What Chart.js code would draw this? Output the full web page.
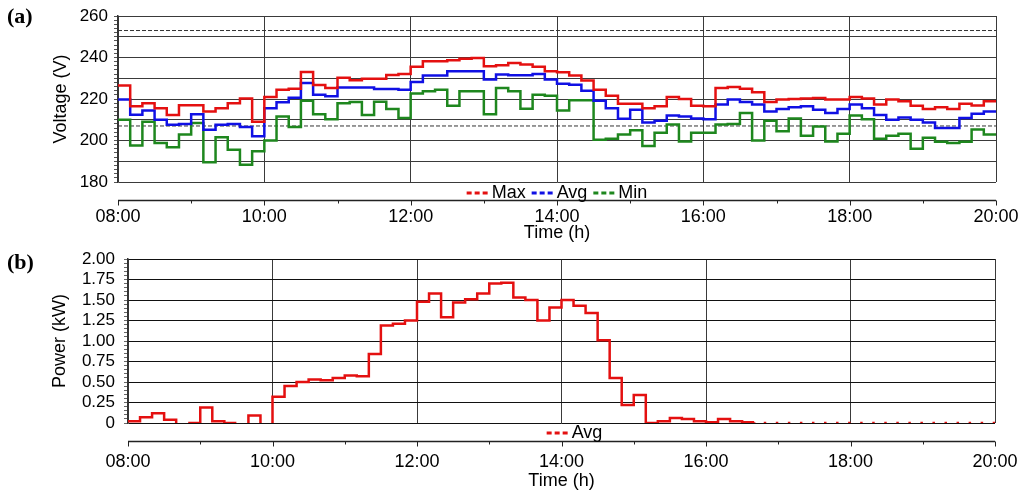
<!DOCTYPE html>
<html>
<head>
<meta charset="utf-8">
<script src="https://cdn.jsdelivr.net/npm/chart.js@4/dist/chart.umd.min.js"></script>
<style>
  html, body { margin: 0; padding: 0; background: #fff; }
  #wrap { position: relative; width: 1024px; height: 497px; overflow: hidden; }
  .panel { position: absolute; left: 0; width: 1024px; }
  .tag { position: absolute; left: 7px; font: bold 22px "Liberation Serif", "Times New Roman", serif; color: #000; }
</style>
</head>
<body>
<div id="wrap">
  <div class="panel" style="top:0;height:248px"><canvas id="voltChart"></canvas></div>
  <div class="panel" style="top:248px;height:249px"><canvas id="powerChart"></canvas></div>
  <div class="tag" style="top:3px">(a)</div>
  <div class="tag" style="top:249px">(b)</div>
</div>
<script>
// one sample every 10 minutes, 08:00 - 20:00
const startMinute = 8 * 60;
const stepMinutes = 10;
const timeTicks = ["08:00", "10:00", "12:00", "14:00", "16:00", "18:00", "20:00"];

const voltMax = [
  226.5, 216.5, 218.0, 215.6, 212.3, 217.0, 217.0, 214.0, 215.6, 218.0, 220.3, 209.0,
  221.0, 224.5, 225.0, 233.0, 226.8, 225.3, 230.3, 229.0, 229.7, 229.8, 231.6, 232.0,
  235.5, 238.2, 238.2, 238.7, 239.4, 239.8, 235.8, 236.3, 237.4, 236.6, 235.5, 233.4,
  232.9, 231.3, 228.9, 224.5, 221.6, 217.7, 217.7, 215.6, 216.5, 221.0, 220.0, 216.8,
  216.5, 225.3, 225.8, 225.0, 223.2, 218.5, 219.7, 220.0, 220.3, 220.5, 219.7, 219.7,
  221.0, 220.3, 217.3, 219.7, 218.9, 216.8, 215.2, 216.0, 215.2, 217.7, 216.9, 218.9
];
const voltAvg = [
  219.7, 212.4, 214.5, 210.0, 207.6, 208.0, 212.6, 205.2, 207.6, 208.0, 206.5, 202.0,
  215.6, 218.4, 220.6, 227.7, 222.0, 221.3, 225.5, 225.5, 225.5, 224.8, 224.8, 224.5,
  228.2, 231.3, 231.3, 233.4, 233.4, 233.4, 229.4, 231.8, 231.5, 231.5, 232.1, 229.4,
  227.4, 226.9, 224.0, 219.2, 215.6, 210.5, 214.8, 208.7, 209.5, 212.0, 211.6, 210.6,
  210.3, 217.3, 219.7, 218.5, 217.3, 214.0, 215.2, 216.0, 216.5, 214.8, 213.2, 215.2,
  217.3, 215.6, 212.3, 210.0, 211.1, 210.0, 208.7, 206.0, 206.0, 210.8, 212.9, 214.0
];
const voltMin = [
  210.0, 197.6, 209.0, 198.8, 196.7, 202.9, 208.4, 189.5, 201.6, 195.6, 188.3, 194.8,
  200.0, 211.6, 206.5, 219.2, 212.7, 210.3, 218.0, 218.5, 212.3, 218.7, 215.2, 210.8,
  222.6, 223.7, 224.5, 216.8, 223.7, 223.7, 212.7, 225.3, 223.7, 215.3, 222.0, 221.6,
  214.5, 219.4, 219.4, 200.4, 200.8, 202.9, 205.0, 197.3, 203.7, 207.7, 199.5, 203.7,
  203.7, 207.7, 208.0, 213.2, 200.0, 209.5, 204.5, 210.6, 202.3, 206.8, 199.5, 203.2,
  212.0, 210.3, 200.8, 202.3, 203.2, 196.0, 201.3, 199.4, 198.8, 199.4, 205.3, 202.9
];
const voltLimits = [253, 207]; // 230 V +/- 10 %

// null = no record for that interval
const powerAvg = [
  0.02, 0.07, 0.12, 0.04, null, 0.00, 0.19, 0.02, 0.00, null, 0.09, null,
  0.32, 0.45, 0.50, 0.53, 0.52, 0.55, 0.58, 0.57, 0.84, 1.19, 1.21, 1.25,
  1.48, 1.58, 1.29, 1.47, 1.51, 1.58, 1.70, 1.71, 1.53, 1.50, 1.25, 1.41,
  1.50, 1.43, 1.34, 1.01, 0.55, 0.22, 0.34, 0.00, 0.02, 0.06, 0.05, 0.02,
  0.01, 0.05, 0.02, 0.01, 0, 0, 0, 0, 0, 0, 0, 0,
  0, 0, 0, 0, 0, 0, 0, 0, 0, 0, 0, 0
];
const dottedFrom = 16 * 60 + 40; // drawn dotted from here on

const RED = "rgb(228,16,16)";
const BLUE = "rgb(16,16,228)";
const GREEN = "rgb(30,135,30)";
const GRID = "#3a3a3a";

Chart.defaults.font.family = '"Liberation Sans", Arial, sans-serif';
Chart.defaults.color = "#000";

function toMinutes(s) {
  const [h, m] = s.split(":");
  return Number(h) * 60 + Number(m);
}
function hhmm(min) {
  const h = Math.floor(min / 60), m = min % 60;
  return String(h).padStart(2, "0") + ":" + String(m).padStart(2, "0");
}
// each value holds for its whole 10 min interval
function stepCorners(values) {
  const pts = [];
  values.forEach((v, i) => {
    const t0 = startMinute + i * stepMinutes;
    const y = v === null ? 0 : v;
    pts.push({ x: t0, y: y }, { x: t0 + stepMinutes, y: y });
  });
  return pts;
}
function flatLine(value) {
  return [
    { x: startMinute, y: value },
    { x: startMinute + voltMax.length * stepMinutes, y: value }
  ];
}

// x axis drawn a bit below the plot frame
const detachedAxis = {
  id: "detachedAxis",
  afterDraw(chart, args, opts) {
    const xs = chart.scales.x, ctx = chart.ctx;
    const y = Math.round(chart.chartArea.bottom + opts.offset) + 0.5;
    ctx.save();
    ctx.strokeStyle = "#222";
    ctx.lineWidth = 1.5;
    ctx.beginPath();
    ctx.moveTo(xs.left, y);
    ctx.lineTo(xs.right, y);
    ctx.stroke();
    ctx.lineWidth = 1;
    for (let m = xs.min; m <= xs.max; m += 60) {
      const px = Math.round(xs.getPixelForValue(m)) + 0.5;
      const len = (m - xs.min) % 120 === 0 ? 5 : 3;
      ctx.beginPath();
      ctx.moveTo(px, y);
      ctx.lineTo(px, y + len);
      ctx.stroke();
    }
    ctx.restore();
  }
};

// legend squeezed between plot frame and x axis
const stripLegend = {
  id: "stripLegend",
  afterDraw(chart, args, opts) {
    const items = chart.data.datasets.filter(d => d.label);
    const ctx = chart.ctx;
    ctx.save();
    ctx.font = '18px "Liberation Sans", Arial, sans-serif';
    ctx.textBaseline = "middle";
    const swatch = 22, gapA = 3, gapB = 6;
    const widths = items.map(d => swatch + gapA + ctx.measureText(d.label).width);
    const total = widths.reduce((a, b) => a + b, 0) + gapB * (items.length - 1);
    let x = (chart.chartArea.left + chart.chartArea.right) / 2 - total / 2 + (opts.shift || 0);
    const y = chart.chartArea.bottom + opts.offset;
    items.forEach((d, i) => {
      ctx.strokeStyle = d.borderColor;
      ctx.lineWidth = 3;
      ctx.setLineDash([5, 3]);
      ctx.beginPath();
      ctx.moveTo(x, y);
      ctx.lineTo(x + swatch, y);
      ctx.stroke();
      ctx.setLineDash([]);
      ctx.fillStyle = "#000";
      ctx.fillText(d.label, x + swatch + gapA, y);
      x += widths[i] + gapB;
    });
    ctx.restore();
  }
};

function timeAxis(padding, titleBottom, height) {
  return {
    type: "linear",
    min: toMinutes(timeTicks[0]),
    max: toMinutes(timeTicks[timeTicks.length - 1]),
    afterBuildTicks: s => { s.ticks = timeTicks.map(t => ({ value: toMinutes(t) })); },
    ticks: { callback: v => hhmm(v), padding: padding, font: { size: 18 }, maxRotation: 0, autoSkip: false },
    grid: { color: GRID, lineWidth: 1, drawTicks: false },
    border: { display: false },
    title: { display: true, text: "Time (h)", font: { size: 18 }, padding: { top: 0, bottom: titleBottom } },
    afterFit: s => { s.height = height; s.paddingLeft = 0; s.paddingRight = 0; }
  };
}

const lineStyle = { borderWidth: 2.5, pointRadius: 0, pointHitRadius: 0, tension: 0, fill: false };

new Chart(document.getElementById("voltChart"), {
  type: "line",
  data: {
    datasets: [
      { label: "Max", data: stepCorners(voltMax), borderColor: RED, ...lineStyle },
      { label: "Avg", data: stepCorners(voltAvg), borderColor: BLUE, ...lineStyle },
      { label: "Min", data: stepCorners(voltMin), borderColor: GREEN, ...lineStyle },
      ...voltLimits.map(v => ({
        label: "", data: flatLine(v), borderColor: "#333", borderWidth: 1,
        borderDash: [4, 2], pointRadius: 0
      }))
    ]
  },
  options: {
    responsive: true,
    maintainAspectRatio: false,
    animation: false,
    layout: { padding: { top: 16, right: 28, left: 0, bottom: 0 } },
    plugins: {
      legend: { display: false },
      tooltip: { enabled: false },
      detachedAxis: { offset: 18 },
      stripLegend: { offset: 11 }
    },
    scales: {
      x: timeAxis(24, 4, 66),
      y: {
        min: 180,
        max: 260,
        ticks: {
          stepSize: 2, autoSkip: false, padding: 6, font: { size: 17 },
          callback: v => (v % 20 === 0 ? v : "")
        },
        grid: {
          color: c => (c.tick && c.tick.value % 10 === 0 ? GRID : "transparent"),
          tickColor: "#555", tickLength: 4, lineWidth: 1
        },
        border: { color: "#333", width: 1.5 },
        title: { display: true, text: "Voltage (V)", font: { size: 18 }, padding: { top: 50, bottom: 0 } },
        afterFit: s => { s.width = 118; s.paddingTop = 0; s.paddingBottom = 0; }
      }
    }
  },
  plugins: [detachedAxis, stripLegend]
});

new Chart(document.getElementById("powerChart"), {
  type: "line",
  data: {
    datasets: [{
      label: "Avg",
      data: stepCorners(powerAvg),
      borderColor: RED,
      ...lineStyle,
      segment: {
        borderColor: c => (c.p0DataIndex % 2 === 0 && powerAvg[c.p0DataIndex / 2] === null ? "transparent" : undefined),
        borderDash: c => (c.p0.parsed.x >= dottedFrom ? [2.5, 9.55] : undefined)
      }
    }]
  },
  options: {
    responsive: true,
    maintainAspectRatio: false,
    animation: false,
    layout: { padding: { top: 11, right: 29, left: 0, bottom: 0 } },
    plugins: {
      legend: { display: false },
      tooltip: { enabled: false },
      detachedAxis: { offset: 18 },
      stripLegend: { offset: 10, shift: 13 }
    },
    scales: {
      x: timeAxis(28, 5, 74),
      y: {
        min: 0,
        max: 2,
        ticks: {
          stepSize: 0.05, autoSkip: false, padding: 9, font: { size: 17 },
          callback: v => {
            const q = v * 4;
            if (Math.abs(q - Math.round(q)) > 1e-6) return "";
            return v === 0 ? "0" : v.toFixed(2);
          }
        },
        grid: {
          color: c => {
            if (!c.tick) return "transparent";
            const q = c.tick.value * 4;
            return Math.abs(q - Math.round(q)) < 1e-6 ? "#111" : "transparent";
          },
          tickColor: "#666", tickLength: 4, lineWidth: 1
        },
        border: { color: "#333", width: 1.5 },
        title: { display: true, text: "Power (kW)", font: { size: 18 }, padding: { top: 49, bottom: 0 } },
        afterFit: s => { s.width = 128; s.paddingTop = 0; s.paddingBottom = 0; }
      }
    }
  },
  plugins: [detachedAxis, stripLegend]
});
</script>
</body>
</html>
